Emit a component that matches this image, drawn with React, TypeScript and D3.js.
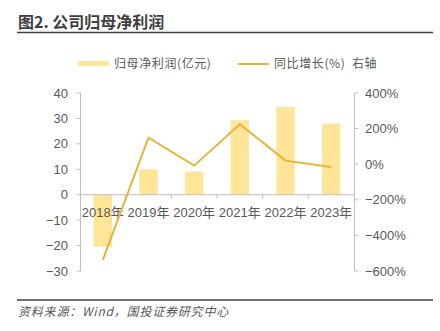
import React from "react";
import * as d3 from "d3";

const categories = ["2018年", "2019年", "2020年", "2021年", "2022年", "2023年"];
const profit = [-20.5, 10.0, 9.1, 29.3, 34.5, 28.0];
const growth = [-538, 149, -8, 224, 20, -16];
const leftTicks = [40, 30, 20, 10, 0, -10, -20, -30];
const rightTicks = [400, 200, 0, -200, -400, -600];

const W = 440;
const H = 331;
const FONT = "'Liberation Sans', Arial, 'Noto Sans CJK SC', sans-serif";
const CJK = "'Noto Sans CJK SC', 'Liberation Sans', sans-serif";
const TEXT = "#595959";
const AXIS = "#BFBFBF";
const BAR = "#FFE597";
const LINE = "#E9B23A";

export default function App() {
  const xOuter = d3.scaleBand<string>().domain(categories).range([80, 354]);
  const yL = d3.scaleLinear().domain([-30, 40]).range([271, 93]);
  const yR = d3.scaleLinear().domain([-600, 400]).range([271, 93]);
  const cx = (i: number) => (xOuter(categories[i]) as number) + xOuter.bandwidth() / 2;
  const line = d3
    .line<number>()
    .x((_, i) => cx(i))
    .y((d) => yR(d));

  return (
    <svg width={W} height={H} style={{ position: "absolute", left: 0, top: 0, background: "#fff" }}>
      <rect width={W} height={H} fill="#fff" />
      <text x={18} y={28} fontSize={16} fontWeight="bold" fill="#404040" fontFamily={CJK}>
        图2. 公司归母净利润
      </text>
      <line x1={17} x2={433} y1={32.5} y2={32.5} stroke="#404040" strokeWidth={1.5} />

      {/* legend */}
      <rect x={78} y={61} width={31} height={5} fill={BAR} />
      <text x={114} y={68} fontSize={12} letterSpacing={0.6} fill={TEXT} fontFamily={CJK}>
        归母净利润(亿元)
      </text>
      <line x1={238} x2={269} y1={64} y2={64} stroke={LINE} strokeWidth={2} />
      <text x={274} y={68} fontSize={12} letterSpacing={0.6} fill={TEXT} fontFamily={CJK}>
        {"同比增长(%)\u00a0\u00a0右轴"}
      </text>

      {/* bars */}
      {profit.map((v, i) => (
        <rect
          key={i}
          x={cx(i) - 9.2}
          width={18.4}
          y={Math.min(yL(v), yL(0))}
          height={Math.abs(yL(v) - yL(0))}
          fill={BAR}
        />
      ))}

      {/* left axis */}
      <line x1={80.5} x2={80.5} y1={yL(40)} y2={yL(-30)} stroke={AXIS} />
      {leftTicks.map((t) => (
        <g key={t}>
          <line x1={76.5} x2={80.5} y1={yL(t)} y2={yL(t)} stroke={AXIS} />
          <text x={68} y={yL(t)} dy="0.35em" textAnchor="end" fontSize={13} fill={TEXT} fontFamily={FONT}>
            {t < 0 ? "\u2212" + Math.abs(t) : t}
          </text>
        </g>
      ))}

      {/* right axis */}
      <line x1={354.5} x2={354.5} y1={yR(400)} y2={yR(-600)} stroke={AXIS} />
      {rightTicks.map((t) => (
        <g key={t}>
          <line x1={354.5} x2={358.5} y1={yR(t)} y2={yR(t)} stroke={AXIS} />
          <text x={365} y={yR(t)} dy="0.35em" fontSize={13} fill={TEXT} fontFamily={FONT}>
            {(t < 0 ? "\u2212" + Math.abs(t) : t) + "%"}
          </text>
        </g>
      ))}

      {/* x axis */}
      <line x1={80} x2={354} y1={yL(0)} y2={yL(0)} stroke={AXIS} />
      {categories.map((c, i) => (
        <g key={c}>
          {i > 0 && <line x1={xOuter(c)} x2={xOuter(c)} y1={yL(0)} y2={yL(0) + 4} stroke={AXIS} />}
          <text x={cx(i)} y={217} textAnchor="middle" fontSize={13} fill={TEXT} fontFamily={FONT}>
            {c}
          </text>
        </g>
      ))}

      {/* growth line */}
      <path d={line(growth) || ""} fill="none" stroke={LINE} strokeWidth={2} />

      {/* footer */}
      <line x1={17} x2={433} y1={300} y2={300} stroke="#404040" strokeWidth={1.5} />
      <text x={18} y={316} fontSize={12} letterSpacing={0.8} fontStyle="italic" fill={TEXT} fontFamily={CJK}>
        资料来源：Wind，国投证券研究中心
      </text>
    </svg>
  );
}
